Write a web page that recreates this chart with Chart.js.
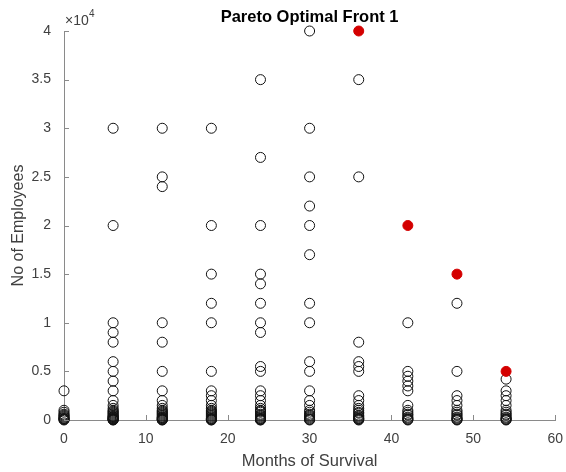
<!DOCTYPE html>
<html>
<head>
<meta charset="utf-8">
<script src="https://cdn.jsdelivr.net/npm/chart.js@4"></script>
<style>
  html, body { margin: 0; padding: 0; background: #fff; }
  canvas { display: block; }
</style>
</head>
<body>
<canvas id="chart" width="566" height="472"></canvas>
<script>
// months of survival (x) and the employee counts seen at each one
const months = [0, 6, 12, 18, 24, 30, 36, 42, 48, 54];
const emp0 = [3000, 1000, 800, 600, 500, 400, 300, 200, 150, 100, 50, 0];
const emp6 = [30000, 20000, 10000, 9000, 8000, 6000, 5000, 4000, 3000, 2000, 1500, 1200, 1000, 900, 800, 700, 600, 500, 400, 350, 300, 250, 200, 150, 100, 75, 50, 20, 0];
const emp12 = [30000, 25000, 24000, 10000, 8000, 5000, 3000, 2000, 1500, 1200, 1000, 900, 800, 700, 600, 500, 400, 300, 250, 200, 150, 100, 50, 20, 0];
const emp18 = [30000, 20000, 15000, 12000, 10000, 5000, 3000, 2500, 2000, 1500, 1200, 1000, 900, 800, 700, 600, 500, 400, 300, 200, 150, 100, 50, 20, 0];
const emp24 = [35000, 27000, 20000, 15000, 14000, 12000, 10000, 9000, 5500, 5000, 3000, 2500, 2000, 1500, 1200, 1000, 900, 800, 600, 500, 400, 300, 200, 150, 100, 50, 20, 0];
const emp30 = [40000, 30000, 25000, 22000, 20000, 17000, 12000, 10000, 6000, 5000, 3000, 2000, 1500, 1000, 800, 600, 500, 400, 300, 200, 100, 50, 0];
const emp36 = [35000, 25000, 8000, 6000, 5500, 5000, 2500, 2000, 1500, 1200, 1000, 800, 700, 500, 400, 300, 200, 150, 100, 50, 0];
const emp42 = [10000, 5000, 4500, 4000, 3500, 3000, 1500, 1000, 800, 600, 500, 300, 200, 100, 50, 0];
const emp48 = [12000, 5000, 2500, 2000, 1500, 1000, 800, 600, 500, 300, 200, 100, 50, 0];
const emp54 = [4200, 3000, 2500, 2000, 1500, 1000, 800, 600, 500, 300, 200, 100, 50, 0];

// pareto optimal points
const paretoMonths = [36, 42, 48, 54];
const paretoEmp = [40000, 20000, 15000, 5000];

const xTicks = [0, 10, 20, 30, 40, 50, 60];
const yTicks = [0, 5000, 10000, 15000, 20000, 25000, 30000, 35000, 40000];
const titleText = "Pareto Optimal Front 1";

const columns = [emp0, emp6, emp12, emp18, emp24, emp30, emp36, emp42, emp48, emp54];
const others = [];
columns.forEach((col, i) => col.forEach(v => others.push({ x: months[i], y: v })));
const pareto = paretoMonths.map((m, i) => ({ x: m, y: paretoEmp[i] }));

const axisColor = "#8a8a8a";
const textColor = "#404040";
const font = "'Liberation Sans', Arial, sans-serif";

// MATLAB style: only left/bottom axis, ticks pointing inward, x10^4 multiplier,
// title centred over the axes rather than the whole canvas
const matlabAxes = {
  id: "matlabAxes",
  afterDraw(c) {
    const { ctx, chartArea: a, scales } = c;
    ctx.save();
    ctx.strokeStyle = axisColor;
    ctx.lineWidth = 1;
    ctx.beginPath();
    xTicks.forEach(t => {
      const px = Math.round(scales.x.getPixelForValue(t)) + 0.5;
      ctx.moveTo(px, a.bottom);
      ctx.lineTo(px, a.bottom - 5);
    });
    yTicks.forEach(t => {
      const py = Math.round(scales.y.getPixelForValue(t)) + 0.5;
      ctx.moveTo(a.left, py);
      ctx.lineTo(a.left + 5, py);
    });
    ctx.stroke();
    ctx.fillStyle = textColor;
    ctx.textBaseline = "alphabetic";
    ctx.font = "14px " + font;
    ctx.fillText("\u00d710", a.left + 1, a.top - 6);
    ctx.font = "10px " + font;
    ctx.fillText("4", a.left + 25, a.top - 14);

    ctx.fillStyle = "#000";
    ctx.font = "bold 16.5px " + font;
    ctx.textAlign = "center";
    ctx.textBaseline = "middle";
    ctx.fillText(titleText, (a.left + a.right) / 2, 17);
    ctx.restore();
  }
};

new Chart(document.getElementById("chart"), {
  type: "scatter",
  data: {
    datasets: [
      {
        data: others,
        pointRadius: 5,
        pointHoverRadius: 5,
        borderWidth: 1,
        borderColor: "#111",
        backgroundColor: "rgba(255,255,255,0)",
        clip: false,
        order: 2
      },
      {
        data: pareto,
        pointRadius: 5,
        pointHoverRadius: 5,
        borderWidth: 1,
        borderColor: "#d40000",
        backgroundColor: "#d40000",
        clip: false,
        order: 1
      }
    ]
  },
  options: {
    responsive: false,
    animation: false,
    events: [],
    layout: { padding: { left: 0, right: 9, top: 31, bottom: 0 } },
    plugins: {
      legend: { display: false },
      tooltip: { enabled: false },
      title: { display: false }
    },
    scales: {
      x: {
        type: "linear",
        min: 0,
        max: 60,
        afterBuildTicks: s => { s.ticks = xTicks.map(v => ({ value: v })); },
        afterFit: s => { s.height = 52; },
        border: { display: true, color: axisColor, width: 1 },
        grid: { display: false },
        ticks: { color: textColor, font: { family: font, size: 14 }, padding: 3, maxRotation: 0 },
        title: {
          display: true,
          text: "Months of Survival",
          color: textColor,
          font: { family: font, size: 16.5 },
          padding: { top: 0, bottom: 1 }
        }
      },
      y: {
        type: "linear",
        min: 0,
        max: 40000,
        afterBuildTicks: s => { s.ticks = yTicks.map(v => ({ value: v })); },
        afterFit: s => { s.width = 64; },
        border: { display: true, color: axisColor, width: 1 },
        grid: { display: false },
        ticks: {
          color: textColor,
          font: { family: font, size: 14 },
          padding: 5,
          callback: v => String(v / 10000)
        },
        title: {
          display: true,
          text: "No of Employees",
          color: textColor,
          font: { family: font, size: 16 },
          padding: { top: 9, bottom: 0 }
        }
      }
    }
  },
  plugins: [matlabAxes]
});
</script>
</body>
</html>
